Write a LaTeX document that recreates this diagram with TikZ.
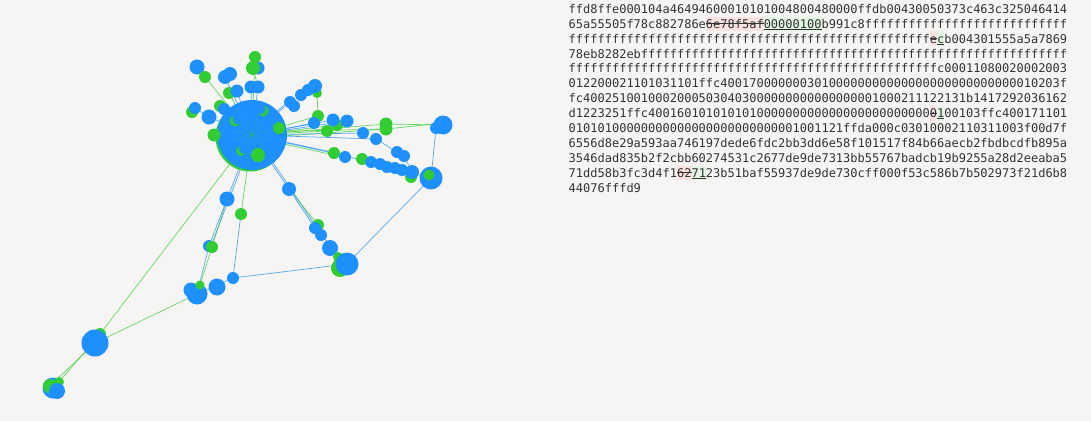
\documentclass[tikz,border=0pt]{standalone}
\usepackage{fontspec}
\newfontfamily\hexfont{DejaVu Sans Mono}
\usetikzlibrary{backgrounds}
\definecolor{gblue}{HTML}{1E90FF}
\definecolor{ggreen}{HTML}{32CD32}
\definecolor{pagebg}{HTML}{F6F5F3}
\definecolor{hexgrey}{HTML}{333333}
\definecolor{delbg}{HTML}{FDE2E2}
\definecolor{insbg}{HTML}{E1F7E1}
\newsavebox\hexbox
\newcommand\delx[1]{\sbox\hexbox{#1}{\fboxsep=0pt\colorbox{delbg}{\rule[-3pt]{0pt}{14.7pt}\rlap{\rule[4.2pt]{\wd\hexbox}{0.9pt}}\usebox\hexbox}}}
\newcommand\insx[1]{\sbox\hexbox{#1}{\fboxsep=0pt\colorbox{insbg}{\rule[-3pt]{0pt}{14.7pt}\rlap{\rule[-1.6pt]{\wd\hexbox}{0.9pt}}\usebox\hexbox}}}
\newcommand\hexrep[2]{\foreach\k in {1,...,#1}{#2}}
\tikzset{
  bn/.style={circle, fill=gblue, inner sep=0pt, minimum size=#1},
  bn/.default=12pt,
  gn/.style={circle, fill=ggreen, inner sep=0pt, minimum size=#1},
  gn/.default=12pt,
  be/.style={draw=gblue, line width=0.7pt, draw opacity=0.75},
  ge/.style={draw=ggreen, line width=0.7pt, draw opacity=0.75},
  hexline/.style={anchor=base west, inner sep=0pt, font=\hexfont\fontsize{12}{15}\selectfont, text=hexgrey},
}
\begin{document}
\begin{tikzpicture}[x=1pt, y=-1pt]
  \useasboundingbox (0,0) rectangle (1091,421);
  % hub
  \node[gn=69pt] (hubrim) at (250,137) {};
  \node[bn=70pt] (hub) at (252,135) {};
  \foreach \a in {15,45,...,345}
    \draw[ge, draw opacity=0.35, line width=0.5pt] (hub.center) -- ++(\a:17);
  \node[gn=11pt] (hi1) at (235,121) {};
  \node[bn=11pt] (hi2) at (238,119) {};
  \node[gn=11pt] (hi3) at (263,111) {};
  \node[bn=11pt] (hi4) at (260,109) {};
  \node[gn=10pt] (hi5) at (241,151) {};
  \node[bn=10pt] (hi6) at (244,149) {};
  \node[gn=14pt] (hi7) at (258,155) {};
  \node[gn=12pt] (hi8) at (279,128) {};
  % top
  \node[bn=13pt] (t3) at (258,68) {};
  \node[gn=12pt] (t1) at (255,57) {};
  \node[gn=14pt] (t2) at (253,68) {};
  \node[bn=13pt] (t4) at (251,87) {};
  \node[bn=13pt] (t5) at (258,87) {};
  % upper left
  \node[bn=15pt] (a1) at (197,67) {};
  \node[gn=12pt] (a2) at (205,77) {};
  \node[bn=14pt] (a3) at (225,77) {};
  \node[bn=14pt] (a4) at (230,74) {};
  \node[gn=12pt] (a5) at (229,93) {};
  \node[bn=13pt] (a6) at (237,91) {};
  % left
  \node[gn=12pt] (b1) at (192,112) {};
  \node[bn=12pt] (b2) at (195,108) {};
  \node[bn=15pt] (b3) at (209,117) {};
  \node[gn=12pt] (b4) at (220,106) {};
  \node[bn=12pt] (b5) at (224,109) {};
  \node[gn=13pt] (b6) at (214,135) {};
  % upper right
  \node[bn=12pt] (c1) at (290,102) {};
  \node[bn=12pt] (c2) at (294,106) {};
  \node[bn=12pt] (c3) at (301,95) {};
  \node[gn=10pt] (c6) at (317,93) {};
  \node[bn=12pt] (c4) at (308,90) {};
  \node[bn=14pt] (c5) at (315,86) {};
  % right
  \node[gn=12pt] (d1) at (318,116) {};
  \node[bn=12pt] (d2) at (314,123) {};
  \node[gn=12pt] (d5) at (337,125) {};
  \node[bn=13pt] (d4) at (333,120) {};
  \node[gn=12pt] (d3) at (327,131) {};
  \node[bn=13pt] (d6) at (347,121) {};
  \node[gn=13pt] (d7) at (386,124) {};
  \node[gn=13pt] (d7b) at (386,129) {};
  \node[bn=12pt] (d8) at (436,128) {};
  \node[bn=19pt] (d9) at (443,125) {};
  \node[bn=12pt] (d10) at (363,133) {};
  \node[bn=12pt] (d11) at (376,139) {};
  % lower right chain
  \node[gn=12pt] (e1) at (334,153) {};
  \node[bn=12pt] (e2) at (345,157) {};
  \node[gn=12pt] (e3) at (362,159) {};
  \node[bn=12pt] (e4) at (371,162) {};
  \node[bn=12pt] (e5) at (380,164) {};
  \node[bn=12pt] (e6) at (387,167) {};
  \node[bn=12pt] (e7) at (395,168) {};
  \node[bn=12pt] (e8) at (402,170) {};
  \node[bn=12pt] (e11) at (397,152) {};
  \node[bn=12pt] (e12) at (404,156) {};
  \node[gn=12pt] (e10) at (411,177) {};
  \node[bn=14pt] (e9) at (412,172) {};
  \node[bn=23pt] (e13) at (431,178) {};
  \node[gn=11pt] (e14) at (429,175) {};
  % lower
  \node[bn=14pt] (f1) at (289,189) {};
  \node[gn=12pt] (f2) at (318,225) {};
  \node[bn=12pt] (f3) at (315,228) {};
  \node[bn=12pt] (f4) at (321,235) {};
  \node[bn=16pt] (f5) at (330,248) {};
  \node[gn=10pt] (f6) at (338,257) {};
  \node[gn=18pt] (f7) at (340,268) {};
  \node[bn=23pt] (f8) at (347,264) {};
  \node[bn=15pt] (g1) at (227,199) {};
  \node[gn=12pt] (g2) at (241,214) {};
  \node[bn=12pt] (g3) at (209,246) {};
  \node[gn=12pt] (g4) at (212,247) {};
  \node[bn=12pt] (h1) at (233,278) {};
  \node[bn=17pt] (h2) at (217,287) {};
  \node[bn=15pt] (h5) at (191,290) {};
  \node[bn=21pt] (h4) at (197,294) {};
  \node[gn=9pt] (h3) at (200,285) {};
  % far left
  \node[gn=12pt] (k1) at (100,334) {};
  \node[bn=27pt] (k2) at (95,343) {};
  \node[bn=21pt] (m0) at (53,388) {};
  \node[gn=14pt] (m1) at (50,386) {};
  \node[gn=10pt] (m2) at (59,382) {};
  \node[bn=16pt] (m3) at (57,391) {};
  % edges
  \begin{scope}[on background layer]
    \fill[pagebg] (0,0) rectangle (1091,421);
    \draw[ge] (hub) -- (t1);
    \draw[be] (hub) -- (t4);
    \draw[be] (hub) -- (t5);
    \draw[ge] (t5) -- (t2);
    \draw[ge] (hub) -- (a2);
    \draw[ge] (hub) -- (a5);
    \draw[be] (hub) -- (a6);
    \draw[be] (hub) -- (a3);
    \draw[be] (hub) -- (b3);
    \draw[be] (b3) -- (b2);
    \draw[be] (hub) -- (c1);
    \draw[be] ([yshift=2pt]hub.center) -- ([yshift=2pt]c1.center);
    \draw[ge] (c6) -- (d1);
    \draw[ge] (hub) -- (d1);
    \draw[be] (hub) -- (d2);
    \draw[ge] (hub) -- (d3);
    \draw[be] (hub) -- (d4);
    \draw[ge] (hub) -- (d5);
    \draw[be] (hub) -- (d6);
    \draw[ge] (hub) -- (d7);
    \draw[ge] ([yshift=3pt]hub.center) -- (d7b);
    \draw[ge] ([yshift=-3pt]hub.center) -- (d7b);
    \draw[ge] (d7) -- (d9);
    \draw[ge] (d7b) -- ([yshift=2pt]d9.center);
    \draw[be] (hub) -- (d10);
    \draw[be] (hub) -- (d11);
    \draw[be] (d11) -- (e11) -- (e12) -- (e9);
    \draw[be, line width=1.4pt] (hub) -- (e1);
    \draw[ge] ([yshift=-2pt]hub.center) -- ([yshift=-2pt]e1.center);
    \draw[be] (e1) -- (e13);
    \draw[be] (d8) -- (e13);
    \draw[be] (e13) -- (f8);
    \draw[be] (h1) -- (f8);
    \draw[be] (hub) -- (f1);
    \draw[be] ([xshift=2pt]hub.center) -- ([xshift=2pt]f1.center);
    \draw[be] (f1) -- (f3);
    \draw[be] ([xshift=2pt]f1.center) -- ([xshift=2pt]f3.center);
    \draw[ge] (f1) -- (f2);
    \draw[be] (f3) -- (f8);
    \draw[be] (hub) -- (g1);
    \draw[be] ([xshift=2pt]hub.center) -- ([xshift=2pt]g1.center);
    \draw[be] (g1) -- (g3);
    \draw[be] ([xshift=2pt]g1.center) -- ([xshift=2pt]g3.center);
    \draw[ge] (g1) -- (g4);
    \draw[be] (g3) -- (h4);
    \draw[ge] (g4) -- (h3);
    \draw[ge] (hub) -- (g2);
    \draw[be] (g2) -- (h1);
    \draw[be] (h1) -- (h4);
    \draw[ge] (hub) -- (k1);
    \draw[ge] (h4) -- (k2);
    \draw[ge] (k1) -- (m2);
    \draw[ge] (k2) -- (m1);
  \end{scope}
  % hex dump
  \foreach \i/\row in {
    1/{ffd8ffe000104a46494600010101004800480000ffdb00430050373c463c325046414},
    2/{65a55505f78c882786e\delx{6e78f5af}\insx{00000100}b991c8\hexrep{28}{f}},
    3/{\hexrep{50}{f}\delx{e}\insx{c}b004301555a5a7869},
    4/{78eb8282eb\hexrep{59}{f}},
    5/{\hexrep{51}{f}c00011080020002003},
    6/{012200021101031101ffc40017000000030100\hexrep{25}{0}10203f},
    7/{fc40025100100020005030403\hexrep{17}{0}1000211122131b1417292036162},
    8/{d1223251ffc400160101010101\hexrep{24}{0}\delx{0}\insx{1}00103ffc400171101},
    9/{010101\hexrep{25}{0}1001121ffda000c03010002110311003f00d7f},
    10/{6556d8e29a593aa746197dede6fdc2bb3dd6e58f101517f84b66aecb2fbdbcdfb895a},
    11/{3546dad835b2f2cbb60274531c2677de9de7313bb55767badcb19b9255a28d2eeaba5},
    12/{71dd58b3fc3d4f1\delx{62}\insx{71}23b51baf55937de9de730cff000f53c586b7b502973f21d6b8},
    13/{44076fffd9}}
    \node[hexline] (l\i) at (568.5,{13.3+14.92*(\i-1)}) {\row};
\end{tikzpicture}
\end{document}
